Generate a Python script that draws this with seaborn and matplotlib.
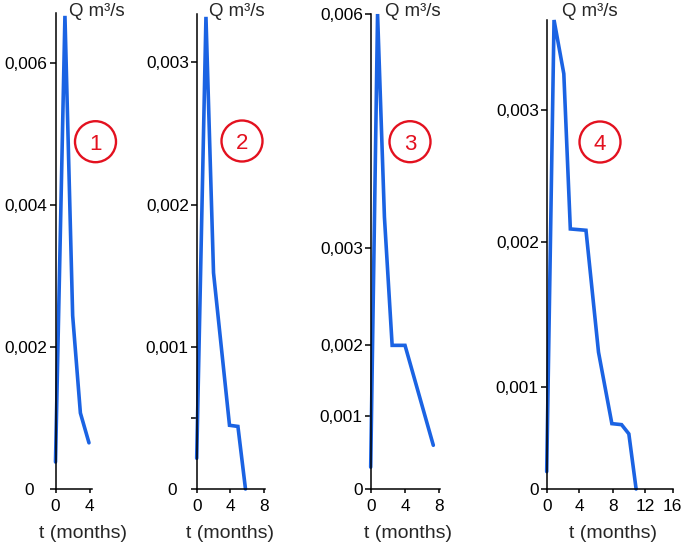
import numpy as np
import matplotlib
matplotlib.use("Agg")
import matplotlib.pyplot as plt
from matplotlib.patches import Ellipse
import seaborn as sns

# ---- values ----
t1 = [0, 1.1, 2.0, 2.9, 3.9]
q1 = [0.00038, 0.00666, 0.00244, 0.00107, 0.00065]

t2 = [0, 1.1, 2.0, 3.9, 4.9, 5.8]
q2 = [0.000216, 0.00332, 0.00152, 0.000448, 0.00044, 0.0]

t3 = [0, 0.8, 1.6, 2.5, 4.0, 7.3]
q3 = [0.0003, 0.006, 0.0034, 0.002, 0.002, 0.0006]

t4 = [0, 0.9, 2.1, 2.9, 4.8, 6.3, 7.9, 9.1, 10.0, 10.9]
q4 = [0.00017, 0.0037, 0.00328, 0.0021, 0.00209, 0.00124, 0.00064, 0.00063, 0.00054, 0.0]

yticks1 = [0, 0.002, 0.004, 0.006]
ylabels1 = ["0", "0,002", "0,004", "0,006"]
yticks2 = [0, 0.0005, 0.001, 0.002, 0.003]
ylabels2 = ["0", "", "0,001", "0,002", "0,003"]
yticks3 = [0, 0.001, 0.002, 0.003, 0.006]
ylabels3 = ["0", "0,001", "0,002", "0,003", "0,006"]
yticks4 = [0, 0.001, 0.002, 0.003]
ylabels4 = ["0", "0,001", "0,002", "0,003"]

xticks1 = [0, 4]
xticks2 = [0, 4, 8]
xticks3 = [0, 4, 8]
xticks4 = [0, 4, 8, 12, 16]

panel_ids = ["1", "2", "3", "4"]
y_title = "Q m\u00b3/s"
x_title = "t (months)"

# ---- layout (pixels of the 685x544 canvas) ----
W, H = 685, 544
BASE = 489          # y pixel of the time axis
BLUE = "#1b63e3"
RED = "#e3111f"


def knot_scale(vals, pix):
    # piecewise linear axis, the original drawing is not evenly spaced
    vals = np.asarray(vals, float)
    pix = np.asarray(pix, float)
    lo = (pix[1] - pix[0]) / (vals[1] - vals[0])
    hi = (pix[-1] - pix[-2]) / (vals[-1] - vals[-2])
    span = vals[-1] - vals[0]
    v = np.r_[vals[0] - 10 * span, vals, vals[-1] + 10 * span]
    p = np.r_[pix[0] - 10 * span * lo, pix, pix[-1] + 10 * span * hi]
    return (lambda x: np.interp(x, v, p)), (lambda y: np.interp(y, p, v))


panels = [
    dict(t=t1, q=q1, yt=yticks1, yl=ylabels1, xt=xticks1,
         x0=55.5, w=36.9, top=13, xmax=4.3, ymax=0.0067,
         yknots=None, xknots=None, zero_pad=11,
         qx=69, lx=83, circ=(95.5, 141.7)),
    dict(t=t2, q=q2, yt=yticks2, yl=ylabels2, xt=xticks2,
         x0=196.7, w=68.3, top=14, xmax=8.12, ymax=0.00334,
         yknots=None, xknots=None, zero_pad=10,
         qx=209, lx=230, circ=(242, 141)),
    dict(t=t3, q=q3, yt=yticks3, yl=ylabels3, xt=xticks3,
         x0=370.7, w=69.3, top=14, xmax=8.08, ymax=0.006,
         yknots=([0, 0.001, 0.002, 0.003, 0.006], [0, 72.8, 143.5, 240.5, 474.5]),
         xknots=None, zero_pad=None,
         qx=385, lx=408, circ=(410, 141.7)),
    dict(t=t4, q=q4, yt=yticks4, yl=ylabels4, xt=xticks4,
         x0=546.7, w=126, top=20, xmax=16, ymax=0.0037,
         yknots=([0, 0.001, 0.002, 0.003, 0.0037], [0, 101.8, 246, 378.2, 467.5]),
         xknots=([0, 4, 8, 12, 16], [0, 32.6, 66, 98.3, 126]), zero_pad=None,
         qx=562, lx=613, circ=(600, 142)),
]

sns.set_style("ticks")
plt.rcParams["font.family"] = ["Liberation Sans", "DejaVu Sans"]

fig = plt.figure(figsize=(W / 100, H / 100), dpi=100)

for pid, p in zip(panel_ids, panels):
    ax = fig.add_axes([p["x0"] / W, 1 - BASE / H, p["w"] / W, (BASE - p["top"]) / H])
    ax.set_facecolor("none")

    if p["yknots"] is not None:
        ax.set_yscale("function", functions=knot_scale(*p["yknots"]))
    if p["xknots"] is not None:
        ax.set_xscale("function", functions=knot_scale(*p["xknots"]))

    sns.lineplot(x=p["t"], y=p["q"], ax=ax, color=BLUE, linewidth=2.6,
                 estimator=None, sort=False)
    for ln in ax.lines:
        ln.set_clip_on(False)
        ln.set_solid_joinstyle("miter")

    ax.set_xlim(0, p["xmax"])
    ax.set_ylim(0, p["ymax"])
    ax.set_xticks(p["xt"])
    ax.set_xticklabels([str(v) for v in p["xt"]])
    ax.set_yticks(p["yt"])
    ax.set_yticklabels(p["yl"])
    ax.minorticks_off()

    sns.despine(ax=ax)
    for s in ("left", "bottom"):
        ax.spines[s].set_linewidth(1.1)
        ax.spines[s].set_color("black")
    ax.tick_params(axis="y", length=4.5, width=1.1, pad=1.2, labelsize=12.4, colors="black")
    ax.tick_params(axis="x", length=3, width=1.1, pad=4.0, labelsize=12.4, colors="black")
    if p["zero_pad"] is not None:
        ax.yaxis.get_major_ticks()[0].set_pad(p["zero_pad"])

    fig.text(p["qx"] / W, 1 - 11 / H, y_title, fontsize=13.4, ha="left", va="center")
    fig.text(p["lx"] / W, 1 - 533 / H, x_title, fontsize=14, ha="center", va="center")

    cx, cy = p["circ"]
    fig.add_artist(Ellipse((cx / W, 1 - cy / H), 41 / W, 41 / H,
                           transform=fig.transFigure, fill=False,
                           edgecolor=RED, linewidth=1.7))
    fig.text(cx / W, 1 - cy / H, pid, color=RED, fontsize=16,
             ha="center", va="center_baseline")

fig.savefig("out.png", dpi=100)
